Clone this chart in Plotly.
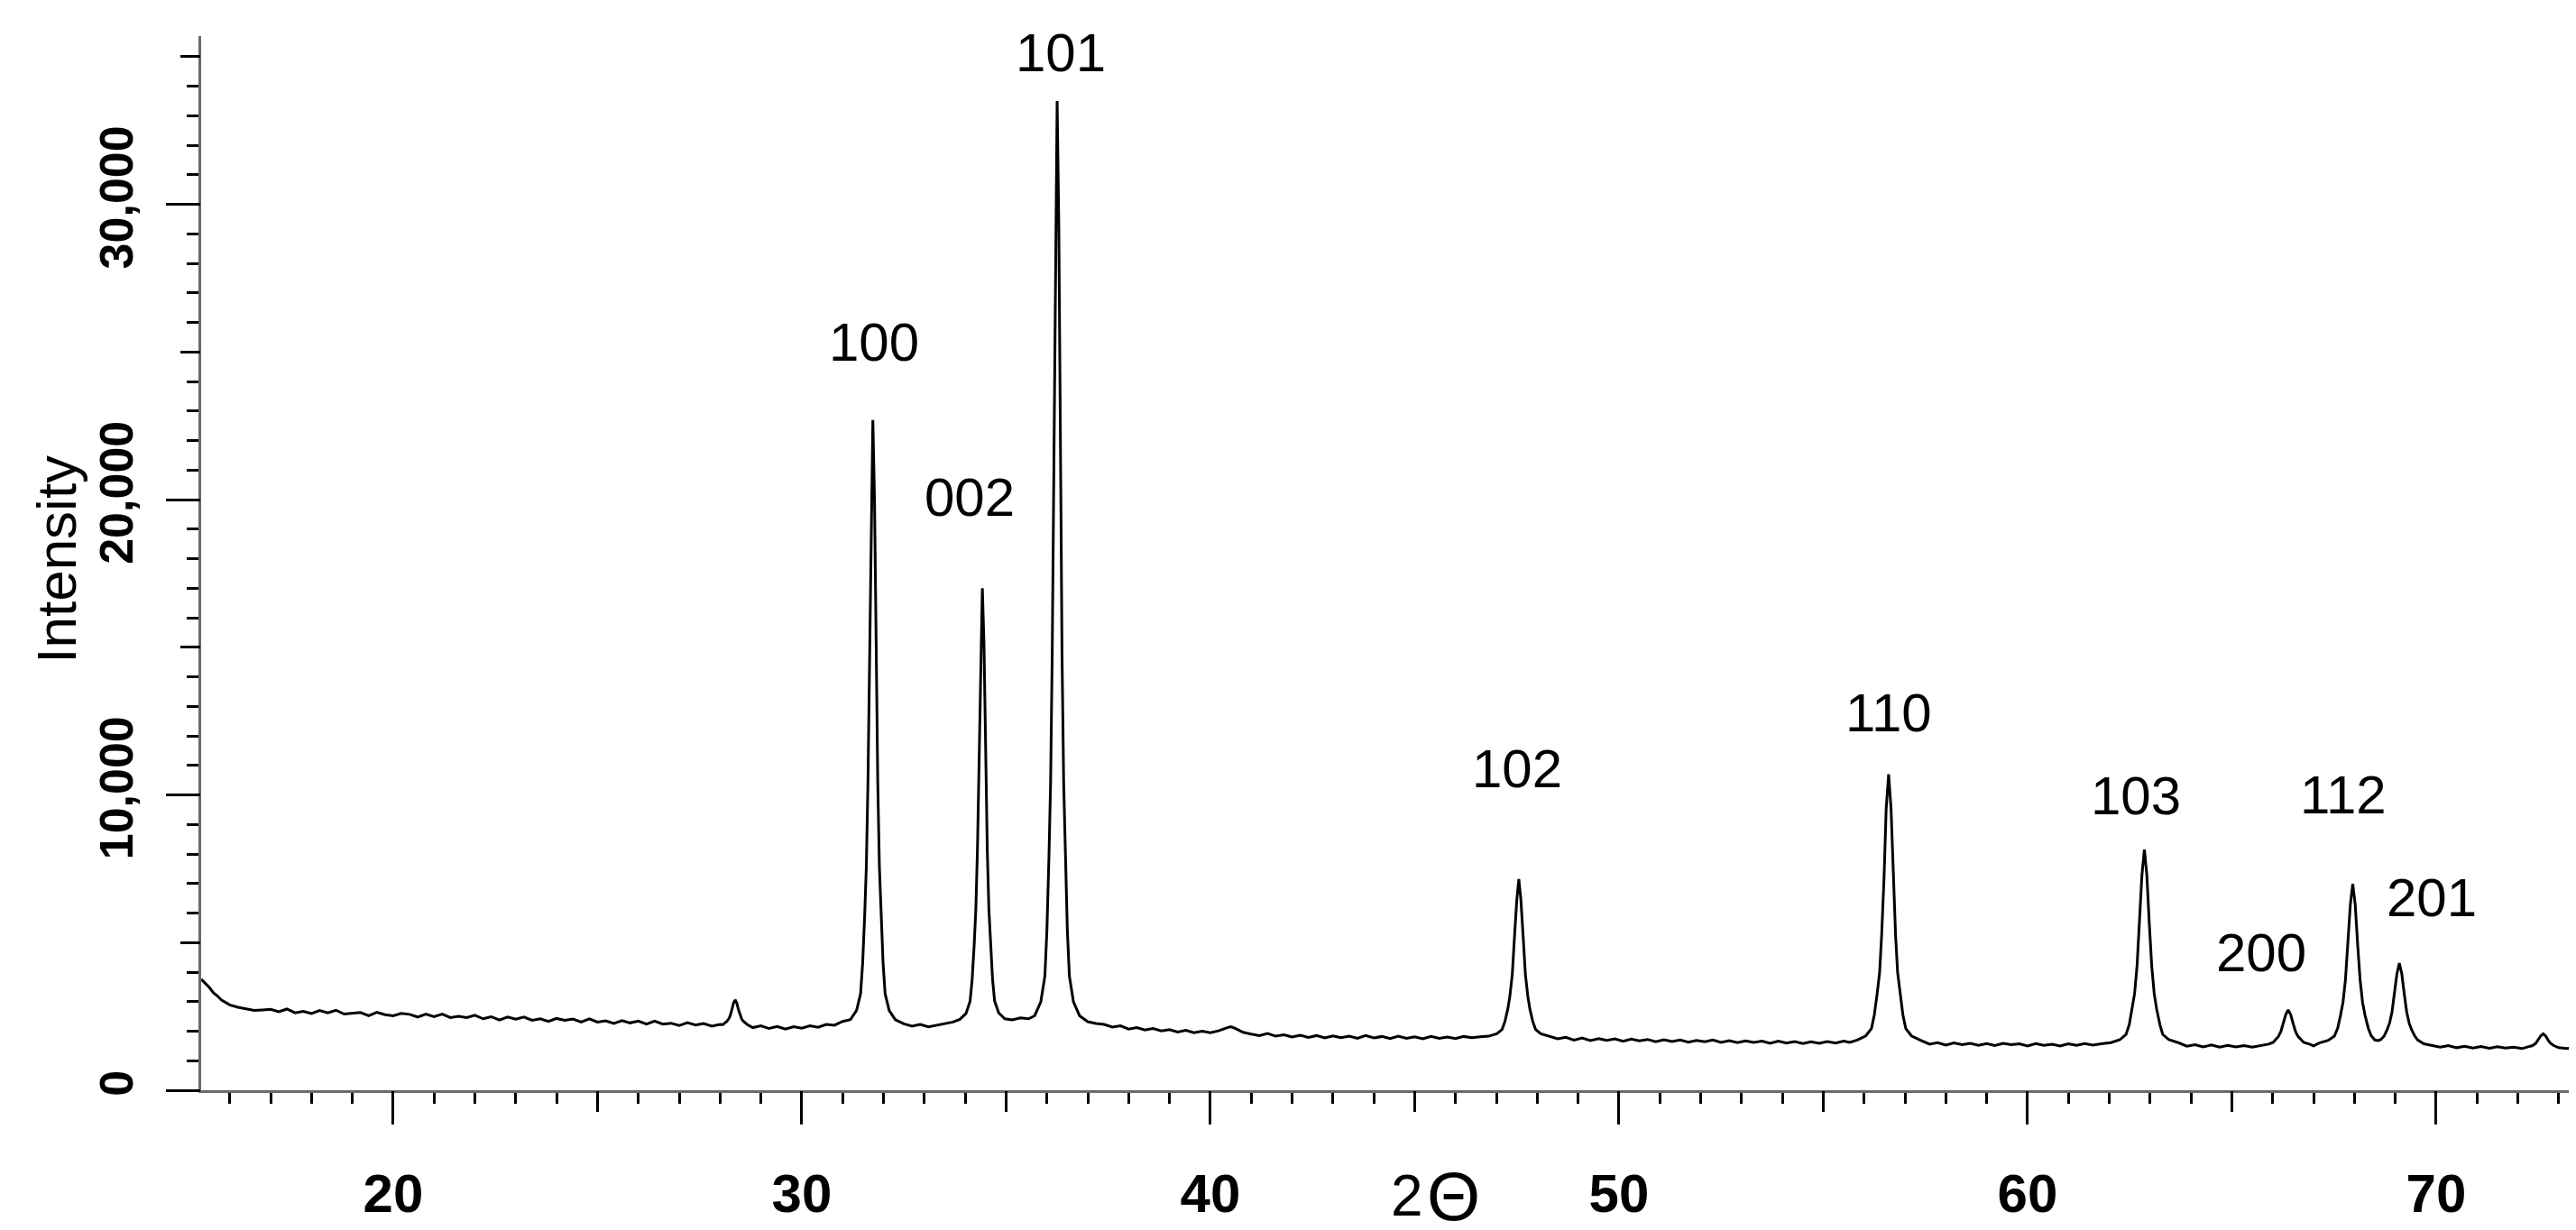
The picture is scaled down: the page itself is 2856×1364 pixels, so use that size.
import plotly.graph_objects as go

# ---------------- data ----------------
# each region: [2-theta (deg), intensity (counts)]
region_low = [
    [15.3, 3760], [15.4, 3620], [15.5, 3480], [15.6, 3300], [15.7, 3190], [15.8, 3050],
    [15.9, 2980], [16.0, 2890], [16.2, 2810], [16.4, 2760], [16.6, 2700], [16.8, 2720],
    [17.0, 2740], [17.2, 2660], [17.4, 2750], [17.6, 2620], [17.8, 2670], [18.0, 2600],
    [18.2, 2700], [18.4, 2620], [18.6, 2710], [18.8, 2580], [19.0, 2610], [19.2, 2630],
    [19.4, 2520], [19.6, 2640], [19.8, 2560], [20.0, 2520], [20.2, 2600], [20.4, 2570],
    [20.6, 2480], [20.8, 2580], [21.0, 2490], [21.2, 2580], [21.4, 2460], [21.6, 2500],
    [21.8, 2460], [22.0, 2540], [22.2, 2420], [22.4, 2490], [22.6, 2380], [22.8, 2480],
    [23.0, 2410], [23.2, 2480], [23.4, 2370], [23.6, 2420], [23.8, 2330], [24.0, 2430],
    [24.2, 2370], [24.4, 2410], [24.6, 2310], [24.8, 2420], [25.0, 2310], [25.2, 2350],
    [25.4, 2260], [25.6, 2360], [25.8, 2280], [26.0, 2340], [26.2, 2240], [26.4, 2340],
    [26.6, 2240], [26.8, 2270], [27.0, 2190], [27.2, 2290], [27.4, 2210], [27.6, 2260],
    [27.8, 2170], [28.0, 2230],
]
region_28 = [
    [28.07, 2220], [28.12, 2270], [28.17, 2340], [28.21, 2410], [28.25, 2530], [28.29, 2730],
    [28.33, 2950], [28.37, 3060], [28.41, 2950], [28.45, 2730], [28.49, 2530], [28.53, 2410],
    [28.57, 2340], [28.62, 2270], [28.67, 2220],
    [28.8, 2120], [29.0, 2180], [29.2, 2090], [29.4, 2160], [29.6, 2070], [29.8, 2150],
    [30.0, 2100], [30.2, 2180], [30.4, 2130], [30.6, 2230], [30.8, 2200], [31.0, 2330],
]
region_main = [
    [31.19, 2390], [31.34, 2700], [31.44, 3270], [31.49, 4300], [31.54, 5930], [31.58, 7570],
    [31.62, 10430], [31.66, 14930], [31.70, 20040], [31.74, 22700], [31.78, 20040],
    [31.82, 14930], [31.86, 10430], [31.90, 7570], [31.94, 5930], [31.99, 4300],
    [32.04, 3270], [32.14, 2700], [32.29, 2390], [32.5, 2250], [32.7, 2170], [32.9, 2230],
    [33.1, 2150], [33.3, 2210], [33.5, 2250], [33.7, 2310], [33.87, 2400], [34.02, 2600],
    [34.12, 3020], [34.17, 3750], [34.22, 4930], [34.26, 6110], [34.30, 8170], [34.34, 11410],
    [34.38, 15090], [34.42, 17000], [34.46, 15090], [34.50, 11410], [34.54, 8170],
    [34.58, 6110], [34.62, 4930], [34.67, 3750], [34.72, 3020], [34.82, 2620], [34.97, 2420],
    [35.15, 2380], [35.35, 2450], [35.55, 2420], [35.70, 2520], [35.85, 2990], [35.95, 3860],
    [36.00, 5420], [36.05, 7920], [36.09, 10410], [36.13, 14780], [36.17, 21640],
    [36.21, 29440], [36.25, 33500], [36.29, 29440], [36.33, 21640], [36.37, 14780],
    [36.41, 10410], [36.45, 7920], [36.50, 5420], [36.55, 3860], [36.65, 2990], [36.80, 2520],
    [37.0, 2320], [37.2, 2260],
]
region_mid = [
    [37.4, 2230], [37.6, 2140], [37.8, 2180], [38.0, 2070], [38.2, 2120], [38.4, 2040],
    [38.6, 2090], [38.8, 2010], [39.0, 2050], [39.2, 1970], [39.4, 2030], [39.6, 1950],
    [39.8, 2000], [40.0, 1950], [40.2, 2010], [40.4, 2110], [40.5, 2150], [40.6, 2100],
    [40.8, 1960], [41.0, 1900], [41.2, 1850], [41.4, 1920], [41.6, 1830], [41.8, 1880],
    [42.0, 1800], [42.2, 1860], [42.4, 1790], [42.6, 1850], [42.8, 1770], [43.0, 1840],
    [43.2, 1780], [43.4, 1830], [43.6, 1760], [43.8, 1850], [44.0, 1770], [44.2, 1820],
    [44.4, 1750], [44.6, 1830], [44.8, 1760], [45.0, 1810], [45.2, 1740], [45.4, 1820],
    [45.6, 1760], [45.8, 1800], [46.0, 1750], [46.2, 1820], [46.4, 1780], [46.6, 1810],
]
region_102 = [
    [46.81, 1830], [47.01, 1910], [47.14, 2060], [47.21, 2330], [47.28, 2750], [47.33, 3180],
    [47.39, 3930], [47.44, 5110], [47.50, 6450], [47.55, 7150], [47.60, 6450], [47.66, 5110],
    [47.71, 3930], [47.77, 3180], [47.82, 2750], [47.89, 2330], [47.96, 2060], [48.09, 1910],
    [48.29, 1830],
]
region_50 = [
    [48.5, 1740], [48.7, 1790], [48.9, 1700], [49.1, 1770], [49.3, 1680], [49.5, 1750],
    [49.7, 1690], [49.9, 1740], [50.1, 1660], [50.3, 1730], [50.5, 1670], [50.7, 1720],
    [50.9, 1640], [51.1, 1710], [51.3, 1650], [51.5, 1700], [51.7, 1630], [51.9, 1690],
    [52.1, 1640], [52.3, 1700], [52.5, 1620], [52.7, 1680], [52.9, 1610], [53.1, 1670],
    [53.3, 1620], [53.5, 1660], [53.7, 1590], [53.9, 1660], [54.1, 1600], [54.3, 1650],
    [54.5, 1580], [54.7, 1640], [54.9, 1590], [55.1, 1650], [55.3, 1600], [55.5, 1660],
    [55.65, 1620],
]
region_110 = [
    [55.83, 1700], [56.04, 1840], [56.18, 2090], [56.25, 2550], [56.32, 3270], [56.38, 3990],
    [56.43, 5260], [56.49, 7260], [56.54, 9520], [56.60, 10700], [56.66, 9520], [56.71, 7260],
    [56.77, 5260], [56.82, 3990], [56.88, 3270], [56.95, 2550], [57.02, 2090], [57.16, 1840],
    [57.37, 1700],
]
region_60 = [
    [57.6, 1560], [57.8, 1610], [58.0, 1530], [58.2, 1600], [58.4, 1540], [58.6, 1590],
    [58.8, 1520], [59.0, 1580], [59.2, 1510], [59.4, 1590], [59.6, 1540], [59.8, 1570],
    [60.0, 1500], [60.2, 1580], [60.4, 1520], [60.6, 1560], [60.8, 1500], [61.0, 1570],
    [61.2, 1520], [61.4, 1580], [61.6, 1530], [61.8, 1570],
]
region_103 = [
    [62.04, 1610], [62.26, 1710], [62.41, 1890], [62.49, 2220], [62.56, 2750], [62.62, 3270],
    [62.68, 4200], [62.74, 5650], [62.80, 7290], [62.86, 8150], [62.92, 7290], [62.98, 5650],
    [63.04, 4200], [63.10, 3270], [63.16, 2750], [63.24, 2220], [63.31, 1890], [63.46, 1710],
    [63.69, 1610],
    [63.9, 1490], [64.1, 1540], [64.3, 1470], [64.5, 1530], [64.7, 1460], [64.9, 1520],
    [65.1, 1470], [65.3, 1510], [65.5, 1460], [65.7, 1520],
]
region_high = [
    [65.9, 1560], [66.01, 1620], [66.08, 1720], [66.14, 1820], [66.20, 1990], [66.26, 2260],
    [66.32, 2560], [66.38, 2720], [66.44, 2560], [66.50, 2260], [66.56, 1990], [66.62, 1820],
    [66.68, 1720], [66.76, 1620], [66.9, 1560], [67.0, 1500], [67.14, 1600], [67.36, 1690],
    [67.51, 1830], [67.59, 2100], [67.66, 2540], [67.72, 2970], [67.78, 3730], [67.84, 4930],
    [67.90, 6280], [67.96, 6990], [68.02, 6280], [68.08, 4930], [68.14, 3730], [68.20, 2970],
    [68.26, 2540], [68.34, 2100], [68.41, 1850], [68.50, 1700], [68.58, 1680], [68.65, 1720],
    [68.73, 1840], [68.80, 2050], [68.86, 2270], [68.92, 2650], [68.98, 3260], [69.04, 3940],
    [69.10, 4300], [69.16, 3940], [69.22, 3260], [69.28, 2650], [69.34, 2270], [69.40, 2050],
    [69.48, 1830], [69.55, 1700], [69.70, 1570],
]
region_tail = [
    [69.9, 1520], [70.1, 1460], [70.3, 1510], [70.5, 1440], [70.7, 1490], [70.9, 1430],
    [71.1, 1480], [71.3, 1420], [71.5, 1470], [71.7, 1430], [71.9, 1460], [72.1, 1410],
    [72.25, 1470], [72.36, 1510], [72.44, 1590], [72.50, 1700], [72.56, 1840], [72.62, 1910],
    [72.68, 1840], [72.74, 1700], [72.80, 1590], [72.88, 1510], [73.0, 1440], [73.2, 1410],
    [73.4, 1460], [73.6, 1420],
]

# peak (hkl) labels and where they sit (2-theta, intensity)
hkl_labels = ["100", "002", "101", "102", "110", "103", "200", "112", "201"]
hkl_theta = [31.76, 34.11, 36.34, 47.50, 56.60, 62.64, 65.73, 67.72, 69.89]
hkl_level = [25330, 20080, 35130, 10890, 12780, 9970, 4660, 10000, 6520]

x_range = [15.3, 73.6]
y_range = [0, 35700]

# ---------------- build ----------------
pattern = (region_low + region_28 + region_main + region_mid + region_102 + region_50
           + region_110 + region_60 + region_103 + region_high + region_tail)
two_theta = [p[0] for p in pattern]
intensity = [p[1] for p in pattern]

FONT = "Liberation Sans, Arial, Helvetica, sans-serif"

fig = go.Figure()
fig.add_trace(go.Scatter(x=two_theta, y=intensity, mode="lines",
                         line=dict(color="black", width=3),
                         hoverinfo="skip", showlegend=False))
# invisible carrier for the secondary (medium-tick) axes
fig.add_trace(go.Scatter(x=two_theta[:1], y=intensity[:1], xaxis="x2", yaxis="y2",
                         mode="markers", marker=dict(opacity=0),
                         hoverinfo="skip", showlegend=False))

axis_common = dict(showgrid=False, zeroline=False, ticks="outside", tickcolor="black",
                   tickwidth=2.5)

fig.update_layout(
    width=2856, height=1364, autosize=False,
    margin=dict(l=215, r=0, t=32, b=163, pad=0),
    paper_bgcolor="white", plot_bgcolor="white",
    xaxis=dict(range=x_range, tickmode="linear", tick0=0, dtick=10, ticklen=35,
               showline=True, linecolor="#6a6a6a", linewidth=3,
               tickfont=dict(family=FONT, size=60, color="black", weight="bold"),
               ticklabelstandoff=25,
               minor=dict(dtick=1, ticks="outside", ticklen=12, tickwidth=2.5,
                          tickcolor="black", showgrid=False),
               **axis_common),
    xaxis2=dict(range=x_range, overlaying="x", anchor="y", side="bottom",
                tickmode="linear", tick0=0, dtick=5, ticklen=23, showticklabels=False,
                showline=False, **axis_common),
    yaxis=dict(range=y_range, tickmode="linear", tick0=0, dtick=10000, ticklen=36,
               showline=True, linecolor="#6a6a6a", linewidth=3,
               tickangle=-90, tickformat=",d",
               tickfont=dict(family=FONT, size=52, color="black", weight="bold"),
               ticklabelstandoff=16,
               minor=dict(dtick=1000, ticks="outside", ticklen=13, tickwidth=2.5,
                          tickcolor="black", showgrid=False),
               **axis_common),
    yaxis2=dict(range=y_range, overlaying="y", anchor="x", side="left",
                tickmode="linear", tick0=0, dtick=5000, ticklen=22, showticklabels=False,
                showline=False, **axis_common),
)

annotations = []
for lab, tx, ty in zip(hkl_labels, hkl_theta, hkl_level):
    annotations.append(dict(x=tx, y=ty, xref="x", yref="y", text=lab, showarrow=False,
                            xanchor="center", yanchor="middle",
                            font=dict(family=FONT, size=60, color="black")))
annotations.append(dict(x=-0.0606, y=0.504, xref="paper", yref="paper", text="Intensity",
                        textangle=-90, showarrow=False, xanchor="center", yanchor="middle",
                        font=dict(family=FONT, size=62, color="black")))
# x-axis title "2 Θ" (two parts, the theta drawn larger as in the reference)
annotations.append(dict(x=0.5063, y=-0.1005, xref="paper", yref="paper", text="2",
                        showarrow=False, xanchor="center", yanchor="middle",
                        font=dict(family=FONT, size=64, color="black")))
annotations.append(dict(x=0.5259, y=-0.1005, xref="paper", yref="paper", text="Θ",
                        showarrow=False, xanchor="center", yanchor="middle",
                        font=dict(family=FONT, size=76, color="black")))
fig.update_layout(annotations=annotations)

fig.write_html("out.html")
